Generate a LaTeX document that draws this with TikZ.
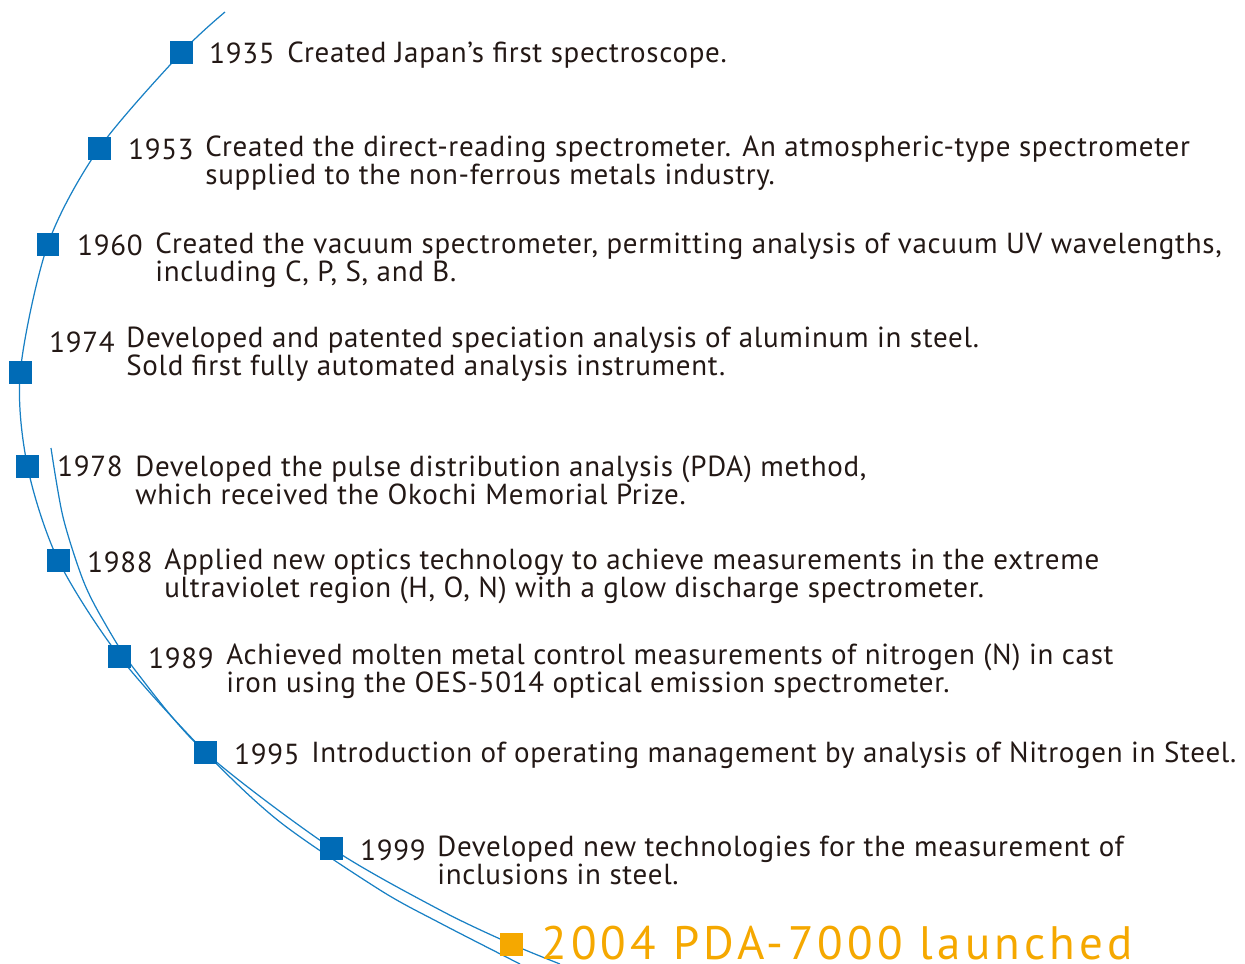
\documentclass[tikz,border=0pt]{standalone}
\usepackage{fontspec}
\setmainfont{PT Sans}[LetterSpace=2.5]
\newfontfamily\launchfont{PT Sans}[LetterSpace=9]
\usetikzlibrary{backgrounds}
\definecolor{markblue}{RGB}{0,107,182}
\definecolor{lineblue}{RGB}{24,128,196}
\definecolor{launchorange}{RGB}{245,168,0}
\definecolor{textdark}{RGB}{35,24,21}
\newcommand{\markpt}[3][]{\node[rectangle,fill=markblue,inner sep=0pt,minimum size=0.46cm,#1] at (#2) (#3) {}}

\begin{document}
\begin{tikzpicture}[x=0.02cm,y=-0.02cm,
  year/.style={anchor=base west,text=textdark,inner sep=0pt,font=\fontsize{16.5}{15.9}\selectfont},
  desc/.style={anchor=base west,text=textdark,inner sep=0pt,align=left,font=\fontsize{16.5}{15.9}\selectfont},
  arc/.style={draw=lineblue,line width=0.7pt}]
  \useasboundingbox (0,0) rectangle (1245,964);

  % milestones
  \markpt{181.5,52.5}{s1935};
  \markpt{99.3,148}{s1953};
  \markpt{48,244}{s1960};
  \markpt{20.3,372}{s1974};
  \markpt{27.5,466.5}{s1978};
  \markpt{58.3,560.3}{s1988};
  \markpt{119.3,656.3}{s1989};
  \markpt{205.3,752.3}{s1995};
  \markpt{331.3,848}{s1999};
  \markpt[fill=launchorange]{511.3,944}{s2004};

  % free ends and bends of the two arcs
  \coordinate (outertop) at (225,12);
  \coordinate (outerend) at (520,964);
  \coordinate (innertop) at (51,448);
  \coordinate (innerend) at (560,964);

  \begin{scope}[on background layer]
    \draw[arc] plot[smooth] coordinates {(outertop) (s1935.center) (s1953.center)
      (s1960.center) (s1974.center) (s1978.center) (s1988.center) (s1989.center)
      (s1995.center) (280,822) (380,890) (440,923) (outerend)};
    \draw[arc] plot[smooth] coordinates {(innertop) (63,517) (83,580) (103,620)
      (135,670) (s1995.center) (s1999.center) (440,910) (s2004.center) (innerend)};
  \end{scope}

  % years and texts (two-line texts sit on their last baseline)
  \node[year] (y1935) at (209,63) {1935};
  \node[desc] (t1935) at (287,62) {Created Japan's first spectroscope.};
  \node[year] (y1953) at (128,159) {1953};
  \node[desc] (t1953) at (205,184) {Created the direct-reading spectrometer. An atmospheric-type spectrometer\\supplied to the non-ferrous metals industry.};
  \node[year] (y1960) at (77,255) {1960};
  \node[desc] (t1960) at (155,281) {Created the vacuum spectrometer, permitting analysis of vacuum UV wavelengths,\\including C, P, S, and B.};
  \node[year] (y1974) at (49,352) {1974};
  \node[desc] (t1974) at (126,375) {Developed and patented speciation analysis of aluminum in steel.\\Sold first fully automated analysis instrument.};
  \node[year] (y1978) at (57,476) {1978};
  \node[desc] (t1978) at (135,504) {Developed the pulse distribution analysis (PDA) method,\\which received the Okochi Memorial Prize.};
  \node[year] (y1988) at (87,572) {1988};
  \node[desc] (t1988) at (164,597) {Applied new optics technology to achieve measurements in the extreme\\ultraviolet region (H, O, N) with a glow discharge spectrometer.};
  \node[year] (y1989) at (148,668) {1989};
  \node[desc] (t1989) at (226,692) {Achieved molten metal control measurements of nitrogen (N) in cast\\iron using the OES-5014 optical emission spectrometer.};
  \node[year] (y1995) at (234,764) {1995};
  \node[desc] (t1995) at (311,762) {Introduction of operating management by analysis of Nitrogen in Steel.};
  \node[year] (y1999) at (360,860) {1999};
  \node[desc] (t1999) at (437,884) {Developed new technologies for the measurement of\\inclusions in steel.};
  \node[anchor=base west,inner sep=0pt,text=launchorange,font=\launchfont\fontsize{26.7}{28}\selectfont] (t2004) at (541,959) {2004 PDA-7000 launched};
\end{tikzpicture}
\end{document}
